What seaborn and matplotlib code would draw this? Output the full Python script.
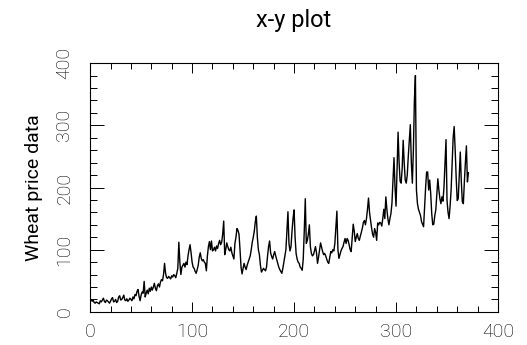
import numpy as np
import pandas as pd
import matplotlib
matplotlib.use('Agg')
import matplotlib.pyplot as plt
import seaborn as sns
from matplotlib.ticker import MultipleLocator

# ============ DATA ============
wheat_price = [
    20, 17, 19, 15, 14, 16, 15, 14, 13, 18,
    16, 19, 22, 17, 15, 19, 18, 16, 14, 17,
    21, 23, 16, 17, 20, 15, 17, 24, 26, 19,
    20, 23, 27, 19, 18, 21, 17, 19, 22, 20,
    18, 24, 21, 28, 26, 33, 36, 25, 18, 27,
    32, 30, 49, 24, 30, 35, 29, 38, 33, 40,
    35, 40, 46, 38, 34, 42, 45, 40, 48, 52,
    50, 60, 78, 62, 55, 54, 57, 55, 53, 58,
    56, 60, 58, 55, 62, 70, 112, 80, 60, 72,
    75, 78, 72, 80, 76, 90, 100, 108, 95, 80,
    72, 70, 65, 62, 68, 75, 88, 95, 86, 82,
    84, 80, 78, 66, 90, 105, 113, 100, 114, 98,
    100, 104, 98, 106, 102, 110, 115, 108, 112, 125,
    146, 92, 100, 111, 105, 100, 98, 104, 95, 90,
    85, 110, 120, 134, 131, 125, 100, 72, 61, 70,
    78, 72, 68, 75, 80, 85, 90, 100, 112, 120,
    130, 145, 154, 120, 100, 92, 75, 64, 67, 70,
    68, 66, 72, 90, 105, 114, 95, 89, 85, 92,
    97, 90, 84, 78, 72, 68, 65, 62, 70, 80,
    89, 100, 130, 161, 110, 98, 105, 130, 150, 164,
    120, 94, 85, 80, 78, 72, 70, 67, 85, 130,
    182, 110, 115, 125, 140, 105, 94, 90, 92, 98,
    105, 95, 78, 88, 100, 111, 104, 97, 92, 94,
    90, 85, 80, 78, 88, 97, 95, 100, 98, 110,
    135, 162, 100, 86, 92, 98, 102, 105, 112, 118,
    110, 118, 115, 108, 100, 97, 120, 141, 130, 113,
    120, 126, 118, 115, 122, 128, 135, 144, 147, 140,
    150, 165, 183, 160, 147, 135, 125, 120, 134, 128,
    115, 143, 140, 144, 143, 138, 150, 165, 150, 185,
    165, 150, 140, 150, 158, 175, 210, 248, 200, 170,
    230, 289, 240, 210, 207, 230, 276, 240, 212, 207,
    220, 250, 275, 301, 240, 207, 260, 340, 380, 196,
    174, 165, 160, 155, 145, 141, 137, 169, 200, 225,
    225, 196, 212, 190, 158, 140, 141, 155, 164, 190,
    214, 196, 182, 174, 185, 178, 200, 240, 277, 179,
    160, 150, 170, 196, 240, 280, 298, 260, 215, 179,
    182, 220, 257, 210, 177, 174, 209, 240, 267, 209,
    224,
]
index = list(range(1, len(wheat_price) + 1))

x_ticks = [0, 100, 200, 300, 400]
y_ticks = [0, 100, 200, 300, 400]

df = pd.DataFrame({'index': index, 'price': wheat_price})

# ============ PLOT ============
sns.set_style('ticks')
plt.rcParams['font.family'] = ['Roboto', 'DejaVu Sans']
plt.rcParams['font.weight'] = 'light'
plt.rcParams['text.color'] = 'black'
plt.rcParams['axes.labelcolor'] = 'black'
plt.rcParams['xtick.color'] = 'black'
plt.rcParams['ytick.color'] = 'black'

fig = plt.figure(figsize=(5.27, 3.45), dpi=100)
ax = fig.add_axes([0.171, 0.096, 0.774, 0.721])

sns.lineplot(data=df, x='index', y='price', color='black', linewidth=1.0, ax=ax)

ax.set_xlim(0, 400)
ax.set_ylim(0, 400)
ax.set_xticks(x_ticks)
ax.set_yticks(y_ticks)
ax.xaxis.set_minor_locator(MultipleLocator(20))
ax.yaxis.set_minor_locator(MultipleLocator(20))

for side in ['top', 'right', 'bottom', 'left']:
    ax.spines[side].set_visible(True)
    ax.spines[side].set_linewidth(0.8)
    ax.spines[side].set_color('black')

ax.tick_params(axis='both', which='both', direction='in', top=True, right=True,
               color='black', width=0.7, labelcolor='black')
ax.tick_params(axis='x', which='major', length=7, pad=8, labelsize=14)
ax.tick_params(axis='x', which='minor', length=4)
ax.tick_params(axis='y', which='major', length=10, pad=12, labelsize=14)
ax.tick_params(axis='y', which='minor', length=5)
plt.setp(ax.get_yticklabels(), rotation=90, va='center')

ax.set_xlabel('')
ax.set_ylabel('Wheat price data', fontsize=14, labelpad=9)
ax.set_title('x-y plot', fontsize=17, pad=26)

fig.savefig('out.png', dpi=100)
